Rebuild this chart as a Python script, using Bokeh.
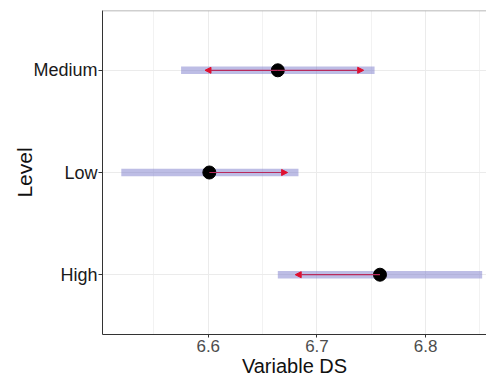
from bokeh.plotting import figure
from bokeh.models import (ColumnDataSource, Range1d, FixedTicker, Span, Arrow,
                          NormalHead)
from bokeh.embed import file_html
from bokeh.resources import INLINE

# ---- data ----
levels = ["High", "Low", "Medium"]
level_pos = [1, 2, 3]
lower = [6.664, 6.520, 6.575]
upper = [6.852, 6.683, 6.753]
point = [6.758, 6.601, 6.664]

arrow_level = [1, 2, 3, 3]
arrow_from = [6.758, 6.601, 6.664, 6.664]
arrow_to = [6.680, 6.673, 6.597, 6.743]

x_ticks = [6.6, 6.7, 6.8]
x_minor = [6.55, 6.65, 6.75, 6.85]
x_start, x_end = 6.5027, 6.856
y_start, y_end = 0.415, 3.585

FONT = "Liberation Sans"

p = figure(width=486, height=379, output_backend="svg", toolbar_location=None,
           x_range=Range1d(x_start, x_end), y_range=Range1d(y_start, y_end),
           min_border_left=102, min_border_right=0, min_border_top=10,
           min_border_bottom=44)
p.outline_line_color = None
p.background_fill_color = "white"
p.border_fill_color = "white"

# grid
p.xgrid.ticker = FixedTicker(ticks=x_ticks, minor_ticks=x_minor)
p.xgrid.grid_line_color = "#ebebeb"
p.xgrid.minor_grid_line_color = "#f2f2f2"
p.ygrid.ticker = FixedTicker(ticks=level_pos)
p.ygrid.grid_line_color = "#ebebeb"

# axes
p.xaxis.ticker = FixedTicker(ticks=x_ticks)
p.yaxis.ticker = FixedTicker(ticks=level_pos)
p.yaxis.major_label_overrides = {pos: name for pos, name in zip(level_pos, levels)}
for ax in (p.xaxis[0], p.yaxis[0]):
    ax.axis_line_color = "#333333"
    ax.axis_line_width = 1
    ax.major_tick_line_color = "#333333"
    ax.major_tick_in = 0
    ax.minor_tick_line_color = None
    ax.major_label_text_font = FONT
    ax.axis_label_text_font = FONT
    ax.axis_label_text_font_style = "normal"
    ax.axis_label_text_color = "#111111"

p.xaxis.major_tick_out = 3
p.xaxis.major_label_text_font_size = "17px"
p.xaxis.major_label_text_color = "#4d4d4d"
p.xaxis.major_label_standoff = 2
p.xaxis.axis_label = "Variable DS"
p.xaxis.axis_label_text_font_size = "20px"
p.xaxis.axis_label_standoff = 0

p.yaxis.major_tick_out = 4
p.yaxis.major_label_text_font_size = "18px"
p.yaxis.major_label_text_color = "#1a1a1a"
p.yaxis.major_label_standoff = 1
p.yaxis.axis_label = "Level"
p.yaxis.axis_label_text_font_size = "21px"
p.yaxis.axis_label_standoff = -6

# top border
p.add_layout(Span(location=y_end, dimension="width", line_color="#a0a0a0", line_width=1.5))

# bars
bars = ColumnDataSource(dict(y=level_pos, left=lower, right=upper))
p.hbar(y="y", left="left", right="right", height=0.075, source=bars,
       fill_color="#7b7bcc", fill_alpha=0.5, line_color=None)

# arrows
arr = ColumnDataSource(dict(x0=arrow_from, x1=arrow_to, y=arrow_level))
p.add_layout(Arrow(x_start="x0", y_start="y", x_end="x1", y_end="y", source=arr,
                   line_color="#b82a5c", line_width=1.2,
                   end=NormalHead(size=6, fill_color="#e0102f", line_color="#e0102f")))

# points
pts = ColumnDataSource(dict(x=point, y=level_pos))
p.scatter(x="x", y="y", source=pts, size=13, fill_color="black", line_color="black")

open("out.html", "w").write(file_html(p, INLINE))
